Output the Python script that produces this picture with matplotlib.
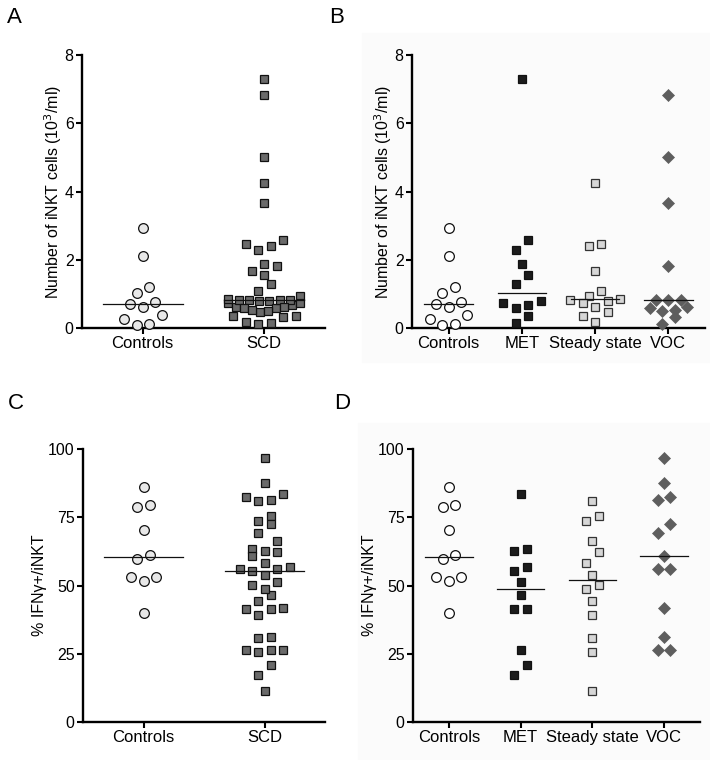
import matplotlib
matplotlib.use('Agg')
import matplotlib.pyplot as plt
import numpy as np
from matplotlib.patches import Rectangle

plt.rcParams['font.family'] = ['Liberation Sans', 'DejaVu Sans']
plt.rcParams['font.size'] = 11.5

# iNKT counts (10^3/ml)
count_controls = [2.93, 2.12, 1.20, 1.02, 0.70, 0.63, 0.75, 0.37, 0.27, 0.08, 0.12]
count_met = [7.29, 2.59, 2.29, 1.88, 1.54, 1.29, 0.78, 0.73, 0.68, 0.59, 0.36, 0.15]
count_steady = [4.24, 2.46, 2.39, 1.68, 1.09, 0.95, 0.83, 0.86, 0.78, 0.73, 0.63,
                0.47, 0.34, 0.17]
count_voc = [6.83, 5.02, 3.66, 1.83, 0.83, 0.83, 0.83, 0.59, 0.49, 0.63, 0.52, 0.32, 0.13]

# % IFNg+ of iNKT
ifn_controls = [86.0, 78.9, 79.5, 70.4, 61.2, 59.6, 53.0, 53.0, 51.7, 39.9]
ifn_met = [83.4, 63.3, 62.6, 56.8, 55.3, 51.3, 46.5, 41.3, 41.3, 26.3, 20.8, 17.1]
ifn_steady = [80.9, 73.6, 75.5, 66.4, 62.1, 58.3, 53.8, 48.9, 50.1, 44.3, 39.1,
              30.9, 25.7, 11.4]
ifn_voc = [96.8, 87.4, 81.3, 82.5, 72.7, 69.4, 60.9, 55.9, 55.9, 41.9, 31.2, 26.5, 26.5]

count_scd = count_met + count_steady + count_voc
ifn_scd = ifn_met + ifn_steady + ifn_voc

cats_two = ['Controls', 'SCD']
cats_four = ['Controls', 'MET', 'Steady state', 'VOC']

W, H = 710, 760
fig = plt.figure(figsize=(W / 100, H / 100), dpi=100)

# very faint grey backdrop behind the right-hand panels
fig.patches.append(Rectangle((362 / W, 1 - 362 / H), (W - 362) / W, (362 - 33) / H,
                             transform=fig.transFigure, color='#fbfbfb', zorder=-10))
fig.patches.append(Rectangle((358 / W, 0), (W - 358) / W, (H - 423) / H,
                             transform=fig.transFigure, color='#fbfbfb', zorder=-10))


def px_box(l, r, t, b):
    return [l / W, 1 - b / H, (r - l) / W, (b - t) / H]


def swarm(ax, x0, vals, row_px=10.5, gap_px=12.5, max_half_px=36):
    """Prism-like scatter: group close values into rows, spread rows sideways"""
    vals = np.asarray(vals, dtype=float)
    tr = ax.transData
    ppu_x = tr.transform((1, 0))[0] - tr.transform((0, 0))[0]
    ypx = tr.transform(np.column_stack([np.zeros(len(vals)), vals]))[:, 1]
    order = np.argsort(vals)
    rows, cur = [], [order[0]]
    for i in order[1:]:
        if ypx[i] - ypx[cur[0]] < row_px:
            cur.append(i)
        else:
            rows.append(cur)
            cur = [i]
    rows.append(cur)
    xs = np.full(len(vals), float(x0))
    for row in rows:
        n = len(row)
        gap = gap_px
        if n > 1 and (n - 1) / 2 * gap > max_half_px:
            gap = 2 * max_half_px / (n - 1)
        # centre slots first, alternating left/right, lowest values in the middle
        slots = sorted([k - (n - 1) / 2 for k in range(n)], key=lambda s: (abs(s), s))
        for i, s in zip(row, slots):
            xs[i] = x0 + s * gap / ppu_x
    return xs


def panel(box, groups, styles, cats, ylim, yticks, ylabel):
    ax = fig.add_axes(px_box(*box))
    ax.set_xlim(-0.5, len(cats) - 0.5)
    ax.set_ylim(*ylim)
    ax.patch.set_alpha(0)
    for i, (vals, st) in enumerate(zip(groups, styles)):
        xs = swarm(ax, i, vals)
        ax.plot(xs, vals, linestyle='none', marker=st['marker'], ms=st['ms'],
                mfc=st['fc'], mec=st['ec'], mew=st['mew'], clip_on=False, zorder=3)
        med = np.median(vals)
        ax.plot([i - 0.33, i + 0.33], [med, med], color='#111111', lw=0.9, zorder=4)
    for s in ['top', 'right']:
        ax.spines[s].set_visible(False)
    for s in ['left', 'bottom']:
        ax.spines[s].set_linewidth(1.7)
    ax.set_xticks(range(len(cats)))
    ax.set_xticklabels(cats, fontsize=12)
    ax.set_yticks(yticks)
    ax.set_yticklabels([str(t) for t in yticks], fontsize=11.5)
    ax.tick_params(axis='both', length=4, width=1.5, pad=2)
    ax.set_ylabel(ylabel, fontsize=11.5, labelpad=0.5)
    return ax


ctrl_grey = dict(marker='o', ms=7, fc='#e8e8e8', ec='#111111', mew=0.9)
ctrl_white = dict(marker='o', ms=7, fc='white', ec='#111111', mew=0.9)
scd_sq = dict(marker='s', ms=6.2, fc='#6a6a6a', ec='#111111', mew=0.9)
met_sq = dict(marker='s', ms=6.2, fc='#1c1c1c', ec='#111111', mew=0.9)
steady_sq = dict(marker='s', ms=6.2, fc='#d6d6d6', ec='#333333', mew=0.9)
voc_d = dict(marker='D', ms=6.2, fc='#5e5e5e', ec='#5e5e5e', mew=0.5)

lab_count = 'Number of iNKT cells (10$^3$/ml)'
lab_ifn = '% IFNγ+/iNKT'

panel((82, 325, 55, 328), [count_controls, count_scd], [ctrl_grey, scd_sq],
      cats_two, (0, 8), [0, 2, 4, 6, 8], lab_count)
panel((412, 705, 55, 328), [count_controls, count_met, count_steady, count_voc],
      [ctrl_white, met_sq, steady_sq, voc_d], cats_four, (0, 8), [0, 2, 4, 6, 8], lab_count)
panel((83, 325, 449, 722), [ifn_controls, ifn_scd], [ctrl_grey, scd_sq],
      cats_two, (0, 100), [0, 25, 50, 75, 100], lab_ifn)
panel((413, 700, 449, 722), [ifn_controls, ifn_met, ifn_steady, ifn_voc],
      [ctrl_white, met_sq, steady_sq, voc_d], cats_four, (0, 100), [0, 25, 50, 75, 100], lab_ifn)

for lab, x, y in [('A', 7, 7), ('B', 329, 7), ('C', 8, 393), ('D', 334, 393)]:
    fig.text(x / W, 1 - y / H, lab, fontsize=16, va='top', ha='left')

fig.savefig('out.png', dpi=100)
